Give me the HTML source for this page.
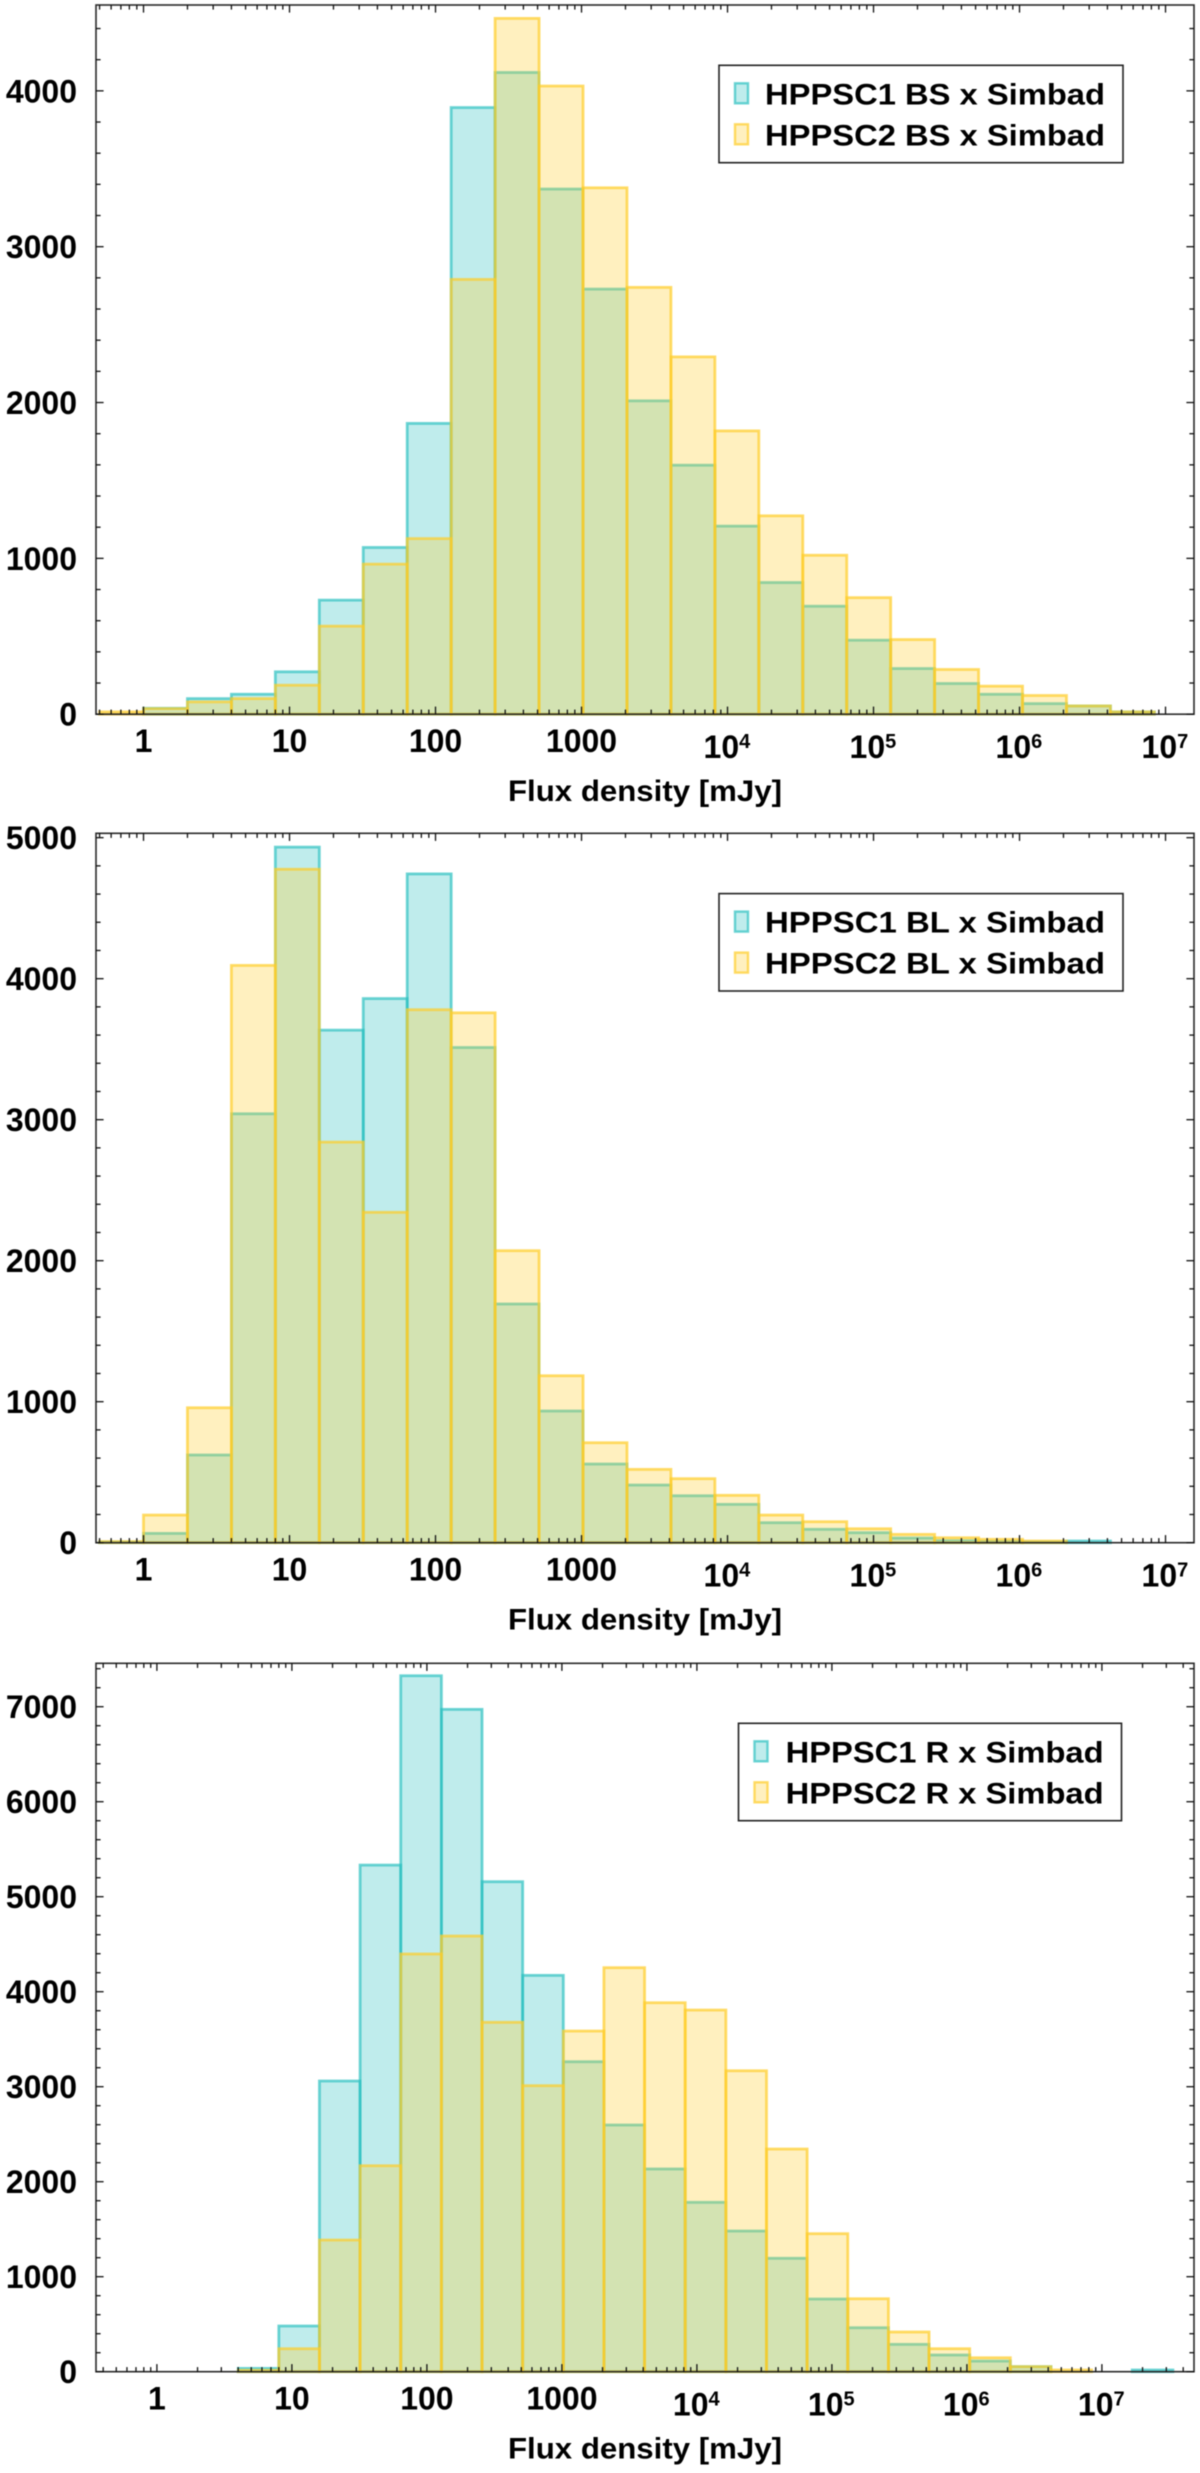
<!DOCTYPE html>
<html lang="en">
<head>
<meta charset="utf-8">
<title>HPPSC x Simbad flux density histograms</title>
<style>
  html, body { margin: 0; padding: 0; background: #fff; }
  svg { display: block; filter: blur(0.45px); }
  text { font-family: "Liberation Sans", "DejaVu Sans", sans-serif; font-weight: bold; fill: #000; }
</style>
</head>
<body>
<svg id="chart" xmlns="http://www.w3.org/2000/svg" width="1200" height="2473" viewBox="0 0 1200 2473"></svg>
<script>
// ---------- Data: categories (lower bin edges in mJy) ----------
const binLowersBS = [0.5,1,2,4,8,16,32,64,128,256,512,1024,2048,4096,8192,16384,32768,65536,131072,262144,524288,1048576,2097152,4194304];
const binLowersBL = [0.5,1,2,4,8,16,32,64,128,256,512,1024,2048,4096,8192,16384,32768,65536,131072,262144,524288,1048576,2097152];
const binLowersR = [4,8,16,32,64,128,256,512,1024,2048,4096,8192,16384,32768,65536,131072,262144,524288,1048576,2097152,4194304,8388608,16777216];

// ---------- Data: series values (counts per bin) ----------
const hppsc1BS = [0,38,100,128,272,732,1070,1866,3893,4118,3370,2728,2011,1598,1207,845,693,475,293,197,128,68,53,15];
const hppsc2BS = [15,36,79,100,186,565,963,1127,2790,4465,4031,3378,2739,2293,1818,1273,1020,748,479,287,180,120,53,15];
const hppsc1BL = [5,66,622,3042,4933,3635,3859,4743,3512,1693,934,558,409,333,272,142,95,71,33,14,9,5,12];
const hppsc2BL = [8,196,957,4094,4776,2841,2343,3780,3758,2071,1184,709,520,454,336,196,149,99,59,35,24,12,0];
const hppsc1R = [35,481,3060,5333,7326,6972,5158,4172,3263,2597,2134,1783,1481,1194,765,463,288,176,112,53,0,0,18];
const hppsc2R = [15,242,1386,2168,4397,4586,3678,3011,3586,4253,3884,3807,3168,2344,1453,768,418,242,147,53,18,0,0];

// ---------- Data: tick values and labels ----------
const xTickValues = [1,10,100,1000,10000,100000,1000000,10000000];
const xTickLabels = ["1","10","100","1000","10^4","10^5","10^6","10^7"];
const yTickValuesBS = [0,1000,2000,3000,4000];
const yTickLabelsBS = ["0","1000","2000","3000","4000"];
const yTickValuesBL = [0,1000,2000,3000,4000,5000];
const yTickLabelsBL = ["0","1000","2000","3000","4000","5000"];
const yTickValuesR = [0,1000,2000,3000,4000,5000,6000,7000];
const yTickLabelsR = ["0","1000","2000","3000","4000","5000","6000","7000"];

// ---------- Text ----------
const xAxisTitle = "Flux density [mJy]";
const seriesNames1BS = "HPPSC1 BS x Simbad";
const seriesNames2BS = "HPPSC2 BS x Simbad";
const seriesNames1BL = "HPPSC1 BL x Simbad";
const seriesNames2BL = "HPPSC2 BL x Simbad";
const seriesNames1R = "HPPSC1 R x Simbad";
const seriesNames2R = "HPPSC2 R x Simbad";

// ---------- Styling ----------
const tealFill = "rgba(42,192,192,0.3)";
const tealStroke = "rgba(42,192,192,0.68)";
const yellowFill = "rgba(255,205,42,0.3)";
const yellowStroke = "rgba(255,205,42,0.7)";
const axisColor = "#2a2a2a";
const NS = "http://www.w3.org/2000/svg";
const svg = document.getElementById("chart");

function make(tag, parent, geom) {
  const el = document.createElementNS(NS, tag);
  for (const k in geom) el.setAttribute(k, geom[k]);
  parent.appendChild(el);
  return el;
}

function drawPanel(cfg) {
  const g = make("g", svg, {});
  
  

  const xScale = v => cfg.left + (Math.log10(v) - Math.log10(cfg.xMin)) / (Math.log10(cfg.xMax) - Math.log10(cfg.xMin)) * (cfg.right - cfg.left);
  const yScale = v => cfg.bottom - v / cfg.yMax * (cfg.bottom - cfg.top);

  // bars
  function drawSeries(values, fill, stroke, label) {
    values.forEach((v, i) => {
      if (v <= 0) return;
      const x0 = xScale(cfg.bins[i]);
      const x1 = xScale(cfg.bins[i] * 2);
      const y = yScale(v);
      const r = make("rect", g, {
        x: x0.toFixed(2), y: y.toFixed(2),
        width: (x1 - x0).toFixed(2), height: (cfg.bottom - y).toFixed(2),
        fill: fill, stroke: stroke, "stroke-width": 2.8
      });
      
      
    });
  }
  drawSeries(cfg.series1, tealFill, tealStroke, "hppsc1");
  drawSeries(cfg.series2, yellowFill, yellowStroke, "hppsc2");

  // frame
  const frame = make("rect", g, {
    x: cfg.left, y: cfg.top, width: cfg.right - cfg.left, height: cfg.bottom - cfg.top,
    fill: "none", stroke: axisColor, "stroke-width": 1.6
  });
  
  

  function tickLine(x1, y1, x2, y2, w) {
    const t = make("line", g, { x1: x1, y1: y1, x2: x2, y2: y2, stroke: "#111", "stroke-width": w });
    
    
  }

  // y ticks
  const yStepMinor = 200;
  for (let v = 0; v <= cfg.yMax; v += yStepMinor) {
    const y = yScale(v);
    const major = v % 1000 === 0;
    const len = major ? 7.6 : 4.6;
    tickLine(cfg.left, y, cfg.left + len, y, 1.3);
    tickLine(cfg.right, y, cfg.right - len, y, 1.3);
  }

  // x ticks (log)
  for (let d = -2; d <= 8; d++) {
    for (let m = 1; m <= 9; m++) {
      const v = m * Math.pow(10, d);
      if (v < cfg.xMin || v > cfg.xMax) continue;
      const x = xScale(v);
      const len = m === 1 ? 7.6 : 4.6;
      tickLine(x, cfg.bottom, x, cfg.bottom - len, 1.3);
      tickLine(x, cfg.top, x, cfg.top + len, 1.3);
    }
  }

  // y tick labels
  cfg.yTicks.forEach((v, i) => {
    const t = make("text", g, { x: 77, y: (yScale(v) + 11.5).toFixed(2), "text-anchor": "end", "font-size": 32 });
    t.textContent = cfg.yLabels[i];
    
    
  });

  // x tick labels
  xTickValues.forEach((v, i) => {
    const label = xTickLabels[i];
    const x = xScale(v);
    if (label.indexOf("^") >= 0) {
      const parts = label.split("^");
      const t = make("text", g, { x: (x - 24).toFixed(2), y: (cfg.bottom + 44).toFixed(2), "font-size": 32 });
      
      
      const base = make("tspan", t, {});
      base.textContent = parts[0];
      const sup = make("tspan", t, { dy: -10, "font-size": 20 });
      sup.textContent = parts[1];
    } else {
      const t = make("text", g, { x: x.toFixed(2), y: (cfg.bottom + 38).toFixed(2), "text-anchor": "middle", "font-size": 32 });
      t.textContent = label;
      
      
    }
  });

  // x axis title
  const title = make("text", g, { x: 508, y: (cfg.bottom + 87).toFixed(2), "font-size": 30, textLength: 274, lengthAdjust: "spacingAndGlyphs" });
  title.textContent = xAxisTitle;
  
  

  // legend
  const lg = make("g", g, {});
  
  
  const box = make("rect", lg, {
    x: cfg.legX, y: cfg.legY, width: cfg.legW, height: 97.4,
    fill: "#fff", stroke: "#222", "stroke-width": 1.6
  });
  
  

  [[cfg.label1, tealFill, tealStroke, 0], [cfg.label2, yellowFill, yellowStroke, 1]].forEach(row => {
    const rowY = cfg.legY + 18 + row[3] * 41;
    const sw = make("rect", lg, {
      x: cfg.legX + 16, y: rowY, width: 13, height: 20,
      fill: row[1], stroke: row[2], "stroke-width": 2.4
    });
    
    
    const t = make("text", lg, {
      x: cfg.legTextX, y: rowY + 21, "font-size": 29.5,
      textLength: cfg.legTextW, lengthAdjust: "spacingAndGlyphs"
    });
    t.textContent = row[0];
    
    
  });
}

drawPanel({
  name: "histogram-bs", left: 96, right: 1194, top: 5, bottom: 714.2,
  xMin: 0.4727, xMax: 1.567e7, yMax: 4551,
  bins: binLowersBS, series1: hppsc1BS, series2: hppsc2BS,
  yTicks: yTickValuesBS, yLabels: yTickLabelsBS,
  label1: seriesNames1BS, label2: seriesNames2BS,
  legX: 719, legY: 65.3, legW: 404, legTextX: 765, legTextW: 340
});
drawPanel({
  name: "histogram-bl", left: 96, right: 1194, top: 833.3, bottom: 1542.7,
  xMin: 0.4727, xMax: 1.567e7, yMax: 5031,
  bins: binLowersBL, series1: hppsc1BL, series2: hppsc2BL,
  yTicks: yTickValuesBL, yLabels: yTickLabelsBL,
  label1: seriesNames1BL, label2: seriesNames2BL,
  legX: 719, legY: 893.6, legW: 404, legTextX: 765, legTextW: 340
});
drawPanel({
  name: "histogram-r", left: 96, right: 1194, top: 1663.3, bottom: 2371.7,
  xMin: 0.3539, xMax: 4.81e7, yMax: 7457,
  bins: binLowersR, series1: hppsc1R, series2: hppsc2R,
  yTicks: yTickValuesR, yLabels: yTickLabelsR,
  label1: seriesNames1R, label2: seriesNames2R,
  legX: 738.5, legY: 1723.3, legW: 383, legTextX: 785.6, legTextW: 318
});
</script>
</body>
</html>
